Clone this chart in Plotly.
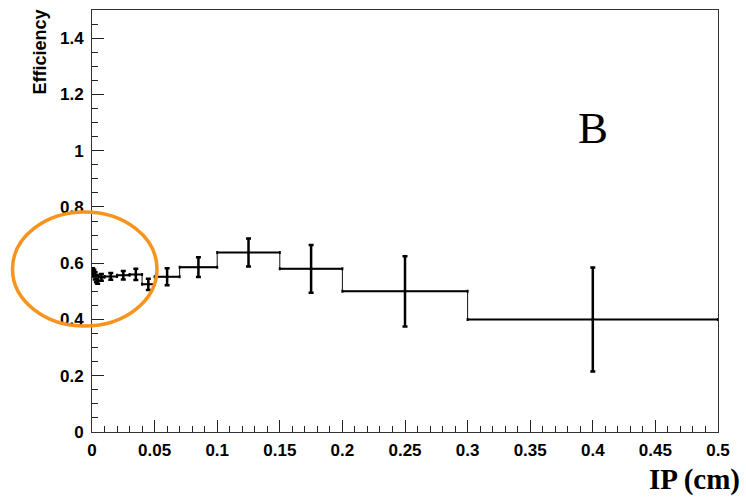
import plotly.graph_objects as go

# Variable-width IP bins (cm) and the measured efficiency per bin
bin_lo = [0.000, 0.001, 0.002, 0.003, 0.004, 0.005, 0.01, 0.02, 0.03, 0.04,
          0.05, 0.07, 0.10, 0.15, 0.20, 0.30]
bin_hi = [0.001, 0.002, 0.003, 0.004, 0.005, 0.01, 0.02, 0.03, 0.04, 0.05,
          0.07, 0.10, 0.15, 0.20, 0.30, 0.50]
efficiency = [0.570, 0.565, 0.555, 0.545, 0.540, 0.550, 0.553, 0.557, 0.560, 0.525,
              0.552, 0.586, 0.638, 0.580, 0.500, 0.400]
eff_error = [0.012, 0.012, 0.013, 0.013, 0.013, 0.012, 0.012, 0.015, 0.020, 0.020,
             0.030, 0.035, 0.050, 0.085, 0.125, 0.185]

x_ticks = [0, 0.05, 0.1, 0.15, 0.2, 0.25, 0.3, 0.35, 0.4, 0.45, 0.5]
x_tick_text = ["0", "0.05", "0.1", "0.15", "0.2", "0.25", "0.3", "0.35", "0.4", "0.45", "0.5"]
y_ticks = [0, 0.2, 0.4, 0.6, 0.8, 1.0, 1.2, 1.4]
y_tick_text = ["0", "0.2", "0.4", "0.6", "0.8", "1", "1.2", "1.4"]

centers = [(lo + hi) / 2 for lo, hi in zip(bin_lo, bin_hi)]
half_widths = [(hi - lo) / 2 for lo, hi in zip(bin_lo, bin_hi)]

W, H = 746, 500
ML, MR, MT, MB = 92, 28, 10, 68
PW, PH = W - ML - MR, H - MT - MB
X_RANGE = [0, 0.5]
Y_RANGE = [0, 1.5]


def px_to_paper(px, py):
    """Convert page pixel position to paper coordinates."""
    return (px - ML) / PW, (H - MB - py) / PH


fig = go.Figure()

# thin histogram outline joining neighbouring bins
fig.add_trace(go.Scatter(
    x=bin_lo + [bin_hi[-1]],
    y=efficiency + [efficiency[-1]],
    mode="lines",
    line=dict(color="#111", width=1, shape="hv"),
    hoverinfo="skip",
    showlegend=False,
))

# bin-width bars and statistical error bars
fig.add_trace(go.Scatter(
    x=centers,
    y=efficiency,
    mode="markers",
    marker=dict(size=3, color="black"),
    error_x=dict(type="data", array=half_widths, visible=True,
                 color="black", thickness=2, width=1.5),
    error_y=dict(type="data", array=eff_error, visible=True,
                 color="black", thickness=2.5, width=2.5),
    showlegend=False,
))

tick_font = dict(family="Liberation Sans, Arial, sans-serif", size=17,
                 color="black", weight="bold")

fig.update_layout(
    width=W, height=H,
    margin=dict(l=ML, r=MR, t=MT, b=MB),
    paper_bgcolor="white",
    plot_bgcolor="white",
    showlegend=False,
    xaxis=dict(
        range=X_RANGE, tickvals=x_ticks, ticktext=x_tick_text,
        ticks="inside", ticklen=12, tickwidth=1, tickcolor="#222",
        minor=dict(dtick=0.01, ticks="inside", ticklen=6, tickwidth=1, tickcolor="#222"),
        showgrid=False, zeroline=False,
        showline=True, linecolor="#333", linewidth=1, mirror=True,
        tickfont=tick_font, ticklabelstandoff=3,
    ),
    yaxis=dict(
        range=Y_RANGE, tickvals=y_ticks, ticktext=y_tick_text,
        ticks="inside", ticklen=12, tickwidth=1, tickcolor="#222",
        minor=dict(dtick=0.05, ticks="inside", ticklen=6, tickwidth=1, tickcolor="#222"),
        showgrid=False, zeroline=False,
        showline=True, linecolor="#333", linewidth=1, mirror=True,
        tickfont=tick_font, ticklabelstandoff=4,
    ),
)

# axis titles and panel label
ex, ey = px_to_paper(39, 8)
fig.add_annotation(
    text="Efficiency", textangle=-90,
    xref="paper", yref="paper", x=ex, y=ey,
    xanchor="center", yanchor="top", showarrow=False,
    font=dict(family="Liberation Sans, Arial, sans-serif", size=18,
              color="black", weight="bold"),
)
tx, ty = px_to_paper(741, 497)
fig.add_annotation(
    text="IP (cm)",
    xref="paper", yref="paper", x=tx, y=ty,
    xanchor="right", yanchor="bottom", showarrow=False,
    borderpad=0,
    font=dict(family="Liberation Serif, Times New Roman, serif", size=29,
              color="black", weight="bold"),
)
fig.add_annotation(
    text="B", x=0.4, y=1.08, xref="x", yref="y",
    xanchor="center", yanchor="middle", showarrow=False,
    font=dict(family="Liberation Serif, Times New Roman, serif", size=45, color="black"),
)

# highlight ring around the low-IP bins (extends past the frame, so paper-referenced)
rx0, ry0 = px_to_paper(12.5, 326)
rx1, ry1 = px_to_paper(157, 212)
fig.add_shape(
    type="circle", xref="paper", yref="paper",
    x0=rx0, x1=rx1, y0=ry0, y1=ry1,
    line=dict(color="#F7941D", width=3.5),
    layer="above",
)

fig.write_html("out.html")
